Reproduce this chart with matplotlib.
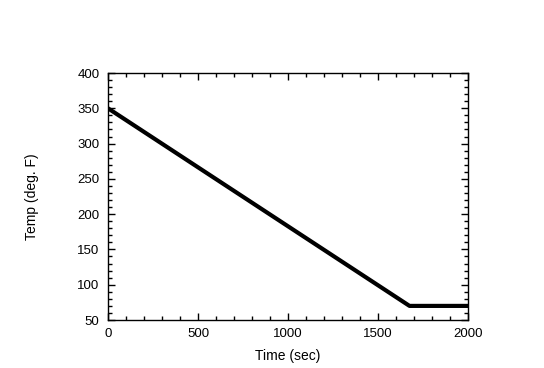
import numpy as np
import matplotlib.pyplot as plt
from matplotlib.ticker import MultipleLocator

# oven temperature vs time
time_sec = [0, 1675, 2000]
temp_f = [350, 70, 70]

plt.rcParams['font.family'] = ['Liberation Sans', 'DejaVu Sans']

fig = plt.figure(figsize=(5.44, 3.68), dpi=100)
ax = fig.add_axes([0.1985, 0.1304, 0.6618, 0.6712])

ax.plot(time_sec, temp_f, color='black', linewidth=3, solid_capstyle='butt')

ax.set_xlim(0, 2000)
ax.set_ylim(50, 400)
ax.xaxis.set_major_locator(MultipleLocator(500))
ax.xaxis.set_minor_locator(MultipleLocator(100))
ax.yaxis.set_major_locator(MultipleLocator(50))
ax.yaxis.set_minor_locator(MultipleLocator(10))
ax.tick_params(which='both', direction='in', top=True, right=True, labelsize=9.5, width=1, pad=6)
ax.tick_params(which='major', length=5)
ax.tick_params(which='minor', length=3)
for s in ax.spines.values():
    s.set_linewidth(1)

ax.set_xlabel("Time (sec)", fontsize=10, labelpad=6)
ax.set_ylabel("Temp (deg. F)", fontsize=10, labelpad=28)

fig.savefig("out.png", dpi=100)
